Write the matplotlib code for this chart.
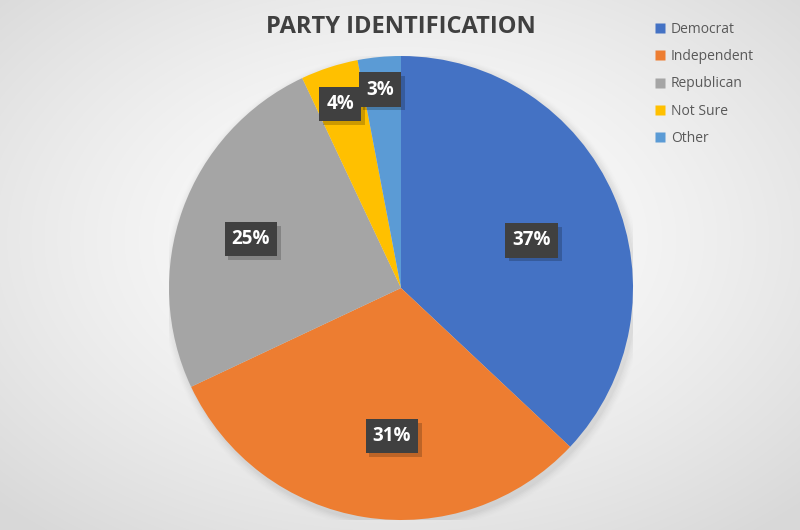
import numpy as np
import matplotlib
matplotlib.use("Agg")
import matplotlib.pyplot as plt
import matplotlib.patheffects as pe
from matplotlib.lines import Line2D

categories = ["Democrat", "Independent", "Republican", "Not Sure", "Other"]
values = [37, 31, 25, 4, 3]
labels = ["37%", "31%", "25%", "4%", "3%"]
colors = ["#4472C4", "#ED7D31", "#A5A5A5", "#FFC000", "#5B9BD5"]
label_dist = [0.60, 0.64, 0.68, 0.835, 0.86]
label_shift = [-3.4, 5.5, 1.8, 0.3, 0.6]

plt.rcParams["font.family"] = ["Open Sans", "DejaVu Sans"]

W, H = 800, 530
fig = plt.figure(figsize=(W / 100, H / 100), dpi=100)

# background radial gradient
bg = fig.add_axes([0, 0, 1, 1])
yy, xx = np.mgrid[0:H, 0:W]
r = np.sqrt(((xx - W / 2) / (W / 2)) ** 2 + ((yy - H * 0.45) / (H / 2)) ** 2) / np.sqrt(2)
v = 1 - 0.15 * np.clip(r, 0, 1) ** 1.4
img = np.dstack([v, v, v])
bg.imshow(img, extent=[0, 1, 0, 1], aspect="auto", origin="upper")
bg.set_axis_off()

cx, cy, R = 401, 288, 232
ax = fig.add_axes([(cx - R) / W, (H - cy - R) / H, 2 * R / W, 2 * R / H])
# soft shadow
for i, a in enumerate(np.linspace(0.05, 0.01, 6)):
    sh = plt.Circle((0.01, -0.015), 1 + 0.006 * (i + 1), color="#808080", alpha=a, lw=0)
    ax.add_patch(sh)
wedges, _ = ax.pie(values, colors=colors, startangle=90, counterclock=False,
                   radius=1, wedgeprops=dict(linewidth=0, edgecolor="none"))
ax.set_xlim(-1, 1)
ax.set_ylim(-1, 1)
ax.set_aspect("equal")
ax.set_axis_off()

for w, lab, d, s in zip(wedges, labels, label_dist, label_shift):
    ang = np.deg2rad((w.theta1 + w.theta2) / 2 + s)
    x, y = d * np.cos(ang), d * np.sin(ang)
    t = ax.text(x, y, lab, ha="center", va="center", fontsize=13.5, fontweight="bold",
                color="white",
                bbox=dict(boxstyle="square,pad=0.38", fc="#404040", ec="none"))
    t.get_bbox_patch().set_path_effects([
        pe.SimplePatchShadow(offset=(2.5, -2.5), shadow_rgbFace="black", alpha=0.2),
        pe.Normal()])

fig.text(401 / W, 1 - 27 / H, "PARTY IDENTIFICATION", ha="center", va="center",
         fontsize=17, fontweight="bold", color="#404040")

handles = [Line2D([], [], marker="s", linestyle="none", markersize=7,
                  markerfacecolor=c, markeredgecolor="none") for c in colors]
leg = fig.legend(handles, categories, loc="upper left",
                 bbox_to_anchor=(654 / W, 1 - 22 / H), frameon=False,
                 fontsize=10, labelspacing=0.88, handlelength=0.8,
                 handletextpad=0.4, borderpad=0, borderaxespad=0)
for t in leg.get_texts():
    t.set_color("#595959")

fig.savefig("out.png", dpi=100)
